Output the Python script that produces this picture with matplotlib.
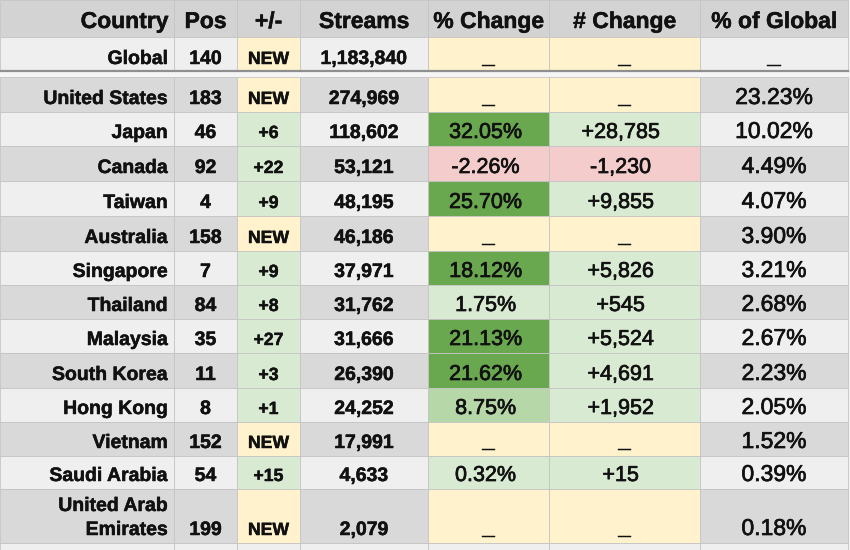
import matplotlib.pyplot as plt
import matplotlib.patheffects as pe
from matplotlib.patches import Rectangle

plt.rcParams['font.family'] = ['Liberation Sans', 'DejaVu Sans']

headers = ['Country', 'Pos', '+/-', 'Streams', '% Change', '# Change', '% of Global']
countries = ['Global', 'United States', 'Japan', 'Canada', 'Taiwan', 'Australia',
             'Singapore', 'Thailand', 'Malaysia', 'South Korea', 'Hong Kong',
             'Vietnam', 'Saudi Arabia', 'United Arab\nEmirates']
pos = [140, 183, 46, 92, 4, 158, 7, 84, 35, 11, 8, 152, 54, 199]
move = [None, None, 6, 22, 9, None, 9, 8, 27, 3, 1, None, 15, None]   # None = NEW
streams = [1183840, 274969, 118602, 53121, 48195, 46186, 37971, 31762, 31666,
           26390, 24252, 17991, 4633, 2079]
pct_change = [None, None, 32.05, -2.26, 25.70, None, 18.12, 1.75, 21.13, 21.62,
              8.75, None, 0.32, None]
num_change = [None, None, 28785, -1230, 9855, None, 5826, 545, 5524, 4691, 1952,
              None, 15, None]
pct_global = [None, 23.23, 10.02, 4.49, 4.07, 3.90, 3.21, 2.68, 2.67, 2.23, 2.05,
              1.52, 0.39, 0.18]

# layout (pixels)
col_edges = [0, 174, 237, 300, 428, 549, 700, 848]
row_edges = [37, 70, 77, 112, 146, 181, 216, 251, 285, 319, 353, 388, 422, 456, 489, 543]
GRAY, LIGHT = '#d9d9d9', '#efefef'
YELLOW, LGREEN, MGREEN, DGREEN, LRED = '#fff2cc', '#d9ead3', '#b6d7a8', '#6aa84f', '#f4cccc'
TXT = '#111111'
medium = [pe.withStroke(linewidth=0.5, foreground=TXT)]
heavy = [pe.withStroke(linewidth=0.35, foreground=TXT)]

fig = plt.figure(figsize=(8.5, 5.5), dpi=100)
ax = fig.add_axes([0, 0, 1, 1])
ax.set_xlim(0, 850)
ax.set_ylim(550, 0)
ax.axis('off')
fig.patch.set_facecolor('#f3f3f3')


def cell(c, top, bot, color):
    ax.add_patch(Rectangle((col_edges[c], top), col_edges[c + 1] - col_edges[c], bot - top,
                           facecolor=color, edgecolor='#c4c4c4', linewidth=0.6))


def put(c, y, s, size, weight='bold', ha='center', dx=0, effects=heavy):
    if ha == 'right':
        x = col_edges[c + 1] - 6
    else:
        x = (col_edges[c] + col_edges[c + 1]) / 2 + dx
    ax.text(x, y, s, ha=ha, va='baseline', fontsize=size, fontweight=weight, color=TXT,
            path_effects=effects)


def dash(c, y):
    put(c, y - 1, '_', 17)


# header
for c, h in enumerate(headers):
    cell(c, 0, 37, '#d3d3d3')
    put(c, 28, h, 16.5, ha='right' if c == 0 else 'center')

# trailing sliver row and separator
for c in range(7):
    cell(c, 543, 560, LIGHT)
ax.add_patch(Rectangle((0, 70), 848, 7, facecolor='#f5f5f5', edgecolor='none'))
ax.plot([0, 848], [70.5, 70.5], color='#8f8f8f', linewidth=1.6)

row_bounds = [(37, 70)] + [(row_edges[i], row_edges[i + 1]) for i in range(2, len(row_edges) - 1)]

for i, name in enumerate(countries):
    top, bot = row_bounds[i]
    bg = GRAY if i % 2 == 1 else LIGHT
    yb = bot - (6 if i == 0 else 8)

    # country, pos, streams
    cell(0, top, bot, bg)
    if '\n' in name:
        a, b = name.split('\n')
        put(0, yb - 24, a, 14, ha='right')
        put(0, yb, b, 14, ha='right')
    else:
        put(0, yb, name, 14, ha='right')
    cell(1, top, bot, bg)
    put(1, yb, str(pos[i]), 14)

    # +/-
    m = move[i]
    cell(2, top, bot, YELLOW if m is None else LGREEN)
    put(2, yb, 'NEW' if m is None else f'+{m}', 12.7)

    cell(3, top, bot, bg)
    put(3, yb, f'{streams[i]:,}', 14)

    # % change
    p = pct_change[i]
    if p is None:
        col = YELLOW
    elif p < 0:
        col = LRED
    elif p >= 15:
        col = DGREEN
    elif p >= 5:
        col = MGREEN
    else:
        col = LGREEN
    cell(4, top, bot, col)
    if p is None:
        dash(4, yb)
    else:
        put(4, yb, f'{p:.2f}%', 15.5, weight='normal', dx=-3, effects=medium)

    # # change
    n = num_change[i]
    cell(5, top, bot, YELLOW if n is None else (LRED if n < 0 else LGREEN))
    if n is None:
        dash(5, yb)
    else:
        put(5, yb, f'{n:+,}', 15.5, weight='normal', dx=-4, effects=medium)

    # % of global
    g = pct_global[i]
    cell(6, top, bot, bg)
    if g is None:
        dash(6, yb)
    else:
        put(6, yb, f'{g:.2f}%', 16.5, weight='normal', effects=medium)

fig.savefig('out.png', dpi=100, facecolor=fig.get_facecolor())
